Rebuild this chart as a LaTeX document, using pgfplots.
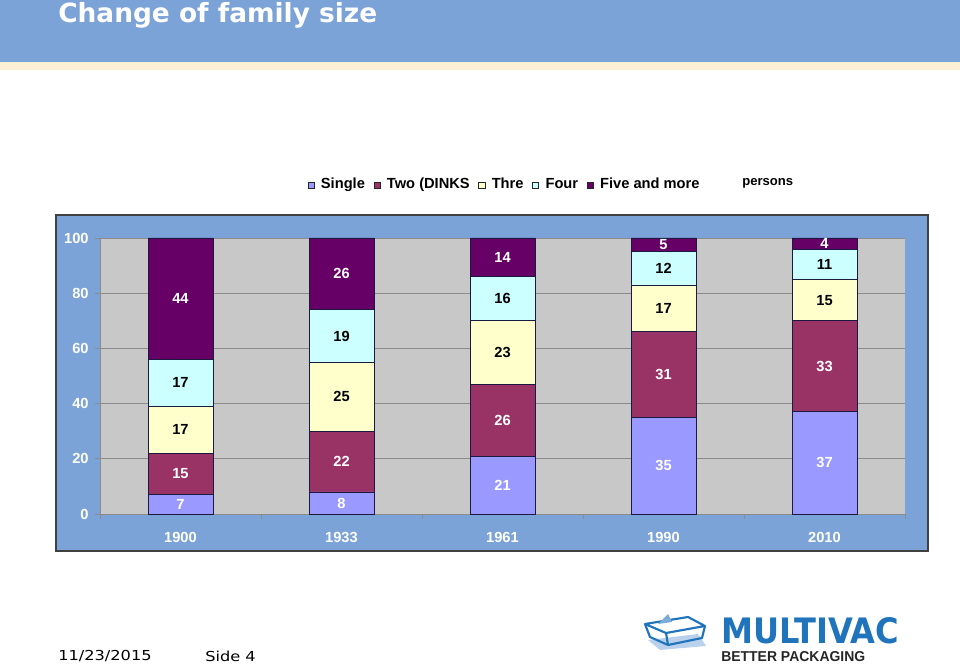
\documentclass[border=0pt]{standalone}
\usepackage{pgfplots}
\pgfplotsset{compat=1.18}
\usepackage{graphicx}
\usepackage{fontspec}
\setmainfont{Liberation Sans}
\newfontfamily\verdana{DejaVu Sans}
\definecolor{band}{HTML}{7BA3D8}
\definecolor{cream}{HTML}{FDF0D5}
\definecolor{plotgray}{HTML}{C8C8C8}
\definecolor{cSingle}{HTML}{9999FF}
\definecolor{cTwo}{HTML}{993366}
\definecolor{cThree}{HTML}{FFFFCC}
\definecolor{cFour}{HTML}{CCFFFF}
\definecolor{cFive}{HTML}{660066}
\definecolor{barline}{HTML}{1A1A40}
\definecolor{logoblue}{HTML}{1F74BB}
\definecolor{logolight}{HTML}{B9D1EC}

\pgfplotstableread{
x single two three four five
0 7 15 17 17 44
1 8 22 25 19 26
2 21 26 23 16 14
3 35 31 17 12 5
4 37 33 15 11 4
}\famdata

\pgfplotsset{
  seglabel/.style={
    visualization depends on={rawy \as \rawy},
    nodes near coords={\pgfmathprintnumber{\rawy}},
    every node near coord/.style={anchor=center,
      font=\bfseries\fontsize{11}{13}\selectfont, text=#1},
  },
}

\begin{document}
\begin{tikzpicture}
\begin{scope}[x=0.75pt,y=-0.75pt]
\fill[white] (0,0) rectangle (960,666);
\fill[band] (0,0) rectangle (960,62);
\fill[cream] (0,62) rectangle (960,70);
\node[anchor=base west, inner sep=0, text=white, font=\verdana\bfseries\fontsize{19.8}{22}\selectfont] at (58,23) {Change of family size};
\filldraw[fill=band, draw=black!75, line width=0.8pt] (56,215) rectangle (928,551);
\node[anchor=west, inner sep=0, font=\bfseries\fontsize{9.8}{11}\selectfont] at (742,183) {persons};
% footer
\node[anchor=west, inner sep=0, font=\verdana\fontsize{10.3}{12}\selectfont] at (58,656) {\scalebox{1.18}[1]{11/23/2015}};
\node[anchor=west, inner sep=0, font=\verdana\fontsize{10.3}{12}\selectfont] at (205,656) {\scalebox{1.18}[1]{Side 4}};
% logo icon
\fill[logolight] (648,640) -- (698,634) -- (706,646) -- (660,650) -- cycle;
\draw[logoblue, line width=1.6pt, line join=round] (645,624) -- (688,617) -- (705,626) -- (666,633) -- cycle;
\draw[logoblue, line width=1.6pt, line join=round] (645,624) -- (650,637) -- (668,645) -- (666,633);
\draw[logoblue, line width=1.6pt, line join=round] (668,645) -- (702,638) -- (705,626);
\fill[logolight!60!logoblue] (658,624) -- (668,614) -- (672,622) -- cycle;
\node[anchor=south west, inner sep=0] at (721,644) {\resizebox{133.5pt}{19.5pt}{\color{logoblue}\verdana\bfseries MULTIVAC}};
\node[anchor=south west, inner sep=0] at (721,662) {\resizebox{108pt}{7.5pt}{\color{black!85}\bfseries BETTER PACKAGING}};
\end{scope}
\begin{axis}[
  at={(75pt,-385.5pt)}, anchor=south west,
  scale only axis, width=603.75pt, height=207pt,
  ybar stacked, bar width=48.75pt,
  xmin=-0.5, xmax=4.5, ymin=0, ymax=100,
  xtick={-0.5,0.5,1.5,2.5,3.5,4.5}, xticklabels={},
  extra x ticks={0,1,2,3,4},
  extra x tick labels={1900,1933,1961,1990,2010},
  extra x tick style={major tick length=0pt},
  xticklabel style={yshift=-10pt},
  yticklabel style={xshift=-1.5pt},
  ytick={0,20,40,60,80,100},
  ymajorgrids, grid style={draw=black!45, line width=0.6pt},
  axis background/.style={fill=plotgray},
  axis x line*=bottom, axis y line*=left,
  axis line style={draw=black!45, line width=0.6pt, -},
  tick style={draw=black!45, line width=0.6pt},
  tick align=outside, major tick length=3.5pt,
  /pgf/number format/assume math mode=true,
  ticklabel style={font=\bfseries\fontsize{11}{13}\selectfont, text=white},
  legend columns=-1,
  legend style={draw=none, fill=none, at={(0.503,1.192)}, anchor=center,
    font=\bfseries\fontsize{11}{13}\selectfont,
    nodes={text depth=0.22em},
    /tikz/every odd column/.append style={column sep=3pt},
    /tikz/every even column/.append style={column sep=4.5pt}},
  legend image code/.code={\draw[#1, draw=black!85, line width=0.4pt] (0pt,-2.3pt) rectangle (4.6pt,2.3pt);},
  every axis plot/.append style={draw=barline, line width=0.6pt},
]
\addplot[fill=cSingle, seglabel=white] table[x=x, y=single] {\famdata};
\addplot[fill=cTwo, seglabel=white] table[x=x, y=two] {\famdata};
\addplot[fill=cThree, seglabel=black] table[x=x, y=three] {\famdata};
\addplot[fill=cFour, seglabel=black] table[x=x, y=four] {\famdata};
\addplot[fill=cFive, seglabel=white] table[x=x, y=five] {\famdata};
\legend{Single, Two (DINKS, Thre, Four, Five and more}
\end{axis}
\pgfresetboundingbox
\path[use as bounding box] (0,0) rectangle (720pt,-499.5pt);
\end{tikzpicture}
\end{document}
